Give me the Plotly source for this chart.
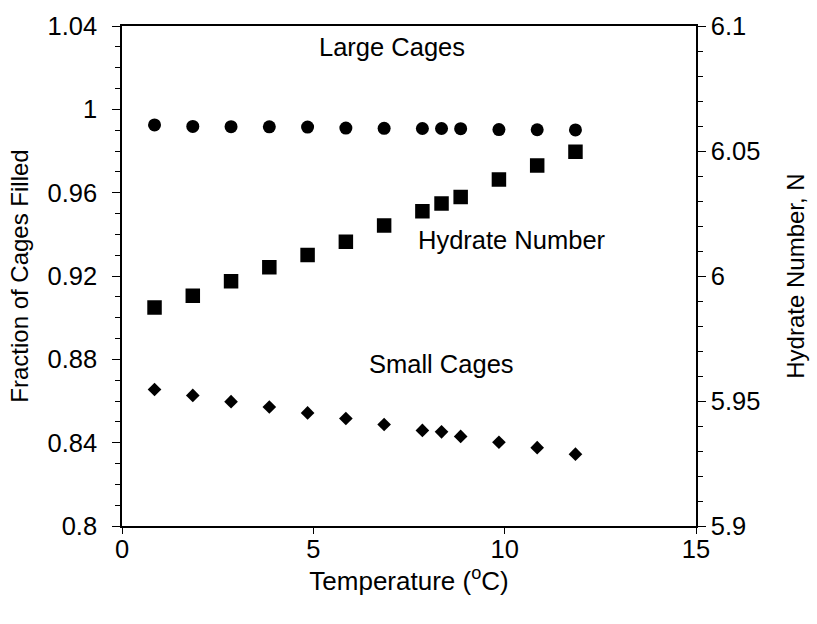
import plotly.graph_objects as go

temperature = [0.85, 1.85, 2.85, 3.85, 4.85, 5.85, 6.85, 7.85, 8.35, 8.85, 9.85, 10.85, 11.85]
large_cages = [0.9925, 0.9918, 0.9917, 0.9916, 0.9915, 0.9910, 0.9909, 0.9908, 0.9908, 0.9907, 0.9903, 0.9902, 0.9901]
small_cages = [0.8655, 0.8627, 0.8597, 0.8571, 0.8543, 0.8516, 0.8487, 0.8459, 0.8452, 0.8430, 0.8402, 0.8376, 0.8345]
hydrate_number = [5.9874, 5.9921, 5.9979, 6.0035, 6.0084, 6.0137, 6.0202, 6.0259, 6.0290, 6.0316, 6.0386, 6.0442, 6.0497]

x_ticks = [0, 5, 10, 15]
left_ticks = [0.8, 0.84, 0.88, 0.92, 0.96, 1.0, 1.04]
left_ticklabels = ["0.8", "0.84", "0.88", "0.92", "0.96", "1", "1.04"]
right_ticks = [5.9, 5.95, 6.0, 6.05, 6.1]
right_ticklabels = ["5.9", "5.95", "6", "6.05", "6.1"]

FONT = "Liberation Sans, Arial, Helvetica, sans-serif"
fs = 25.5    # horizontal text
fs_v = 24    # rotated axis titles

fig = go.Figure()
fig.add_trace(go.Scatter(x=temperature, y=large_cages, mode="markers", name="Large Cages",
                         marker=dict(symbol="circle", size=13, color="black")))
fig.add_trace(go.Scatter(x=temperature, y=small_cages, mode="markers", name="Small Cages",
                         marker=dict(symbol="diamond", size=10.5, color="black")))
fig.add_trace(go.Scatter(x=temperature, y=hydrate_number, mode="markers", name="Hydrate Number",
                         yaxis="y2", marker=dict(symbol="square", size=14.5, color="black")))

fig.update_layout(
    width=817, height=624,
    margin=dict(l=122, r=121, t=19, b=98),
    paper_bgcolor="white", plot_bgcolor="white",
    showlegend=False,
    font=dict(family=FONT, size=fs, color="black"),
    xaxis=dict(range=[0, 15], tickvals=x_ticks, ticks="outside", ticklen=6, tickwidth=1,
               tickcolor="black", showline=True, linecolor="black", linewidth=1.5,
               mirror=True, showgrid=False, zeroline=False, ticklabelstandoff=-6,
               title=dict(text="Temperature (<sup>o</sup>C)", standoff=0,
                          font=dict(family=FONT, size=26, color="black")),
               tickfont=dict(family=FONT, size=fs, color="black")),
    yaxis=dict(range=[0.8, 1.04], tickvals=left_ticks, ticktext=left_ticklabels,
               ticks="outside", ticklen=8, tickwidth=1, tickcolor="black", ticklabelstandoff=10,
               showline=True, linecolor="black", linewidth=1.5, showgrid=False, zeroline=False,
               minor=dict(dtick=0.01, tick0=0.8, ticks="outside", ticklen=5, tickcolor="black", showgrid=False),
               title=dict(text="Fraction of Cages Filled", standoff=12,
                          font=dict(family=FONT, size=fs_v, color="black")),
               tickfont=dict(family=FONT, size=fs, color="black")),
    yaxis2=dict(range=[5.9, 6.1], overlaying="y", side="right", tickvals=right_ticks,
                ticktext=right_ticklabels, ticks="outside", ticklen=8, tickwidth=1, tickcolor="black",
                showline=True, linecolor="black", linewidth=1.5, showgrid=False, zeroline=False,
                minor=dict(dtick=0.01, tick0=5.9, ticks="outside", ticklen=5, tickcolor="black", showgrid=False),
                title=dict(text="Hydrate Number, N", standoff=28,
                           font=dict(family=FONT, size=fs_v, color="black")),
                tickfont=dict(family=FONT, size=fs, color="black")),
    annotations=[
        dict(x=7.06, y=1.0298, xref="x", yref="y", text="Large Cages", showarrow=False,
             font=dict(family=FONT, size=fs, color="black")),
        dict(x=10.18, y=0.9375, xref="x", yref="y", text="Hydrate Number", showarrow=False,
             font=dict(family=FONT, size=fs, color="black")),
        dict(x=8.35, y=0.8778, xref="x", yref="y", text="Small Cages", showarrow=False,
             font=dict(family=FONT, size=fs, color="black")),
    ],
)

fig.write_html("out.html")
